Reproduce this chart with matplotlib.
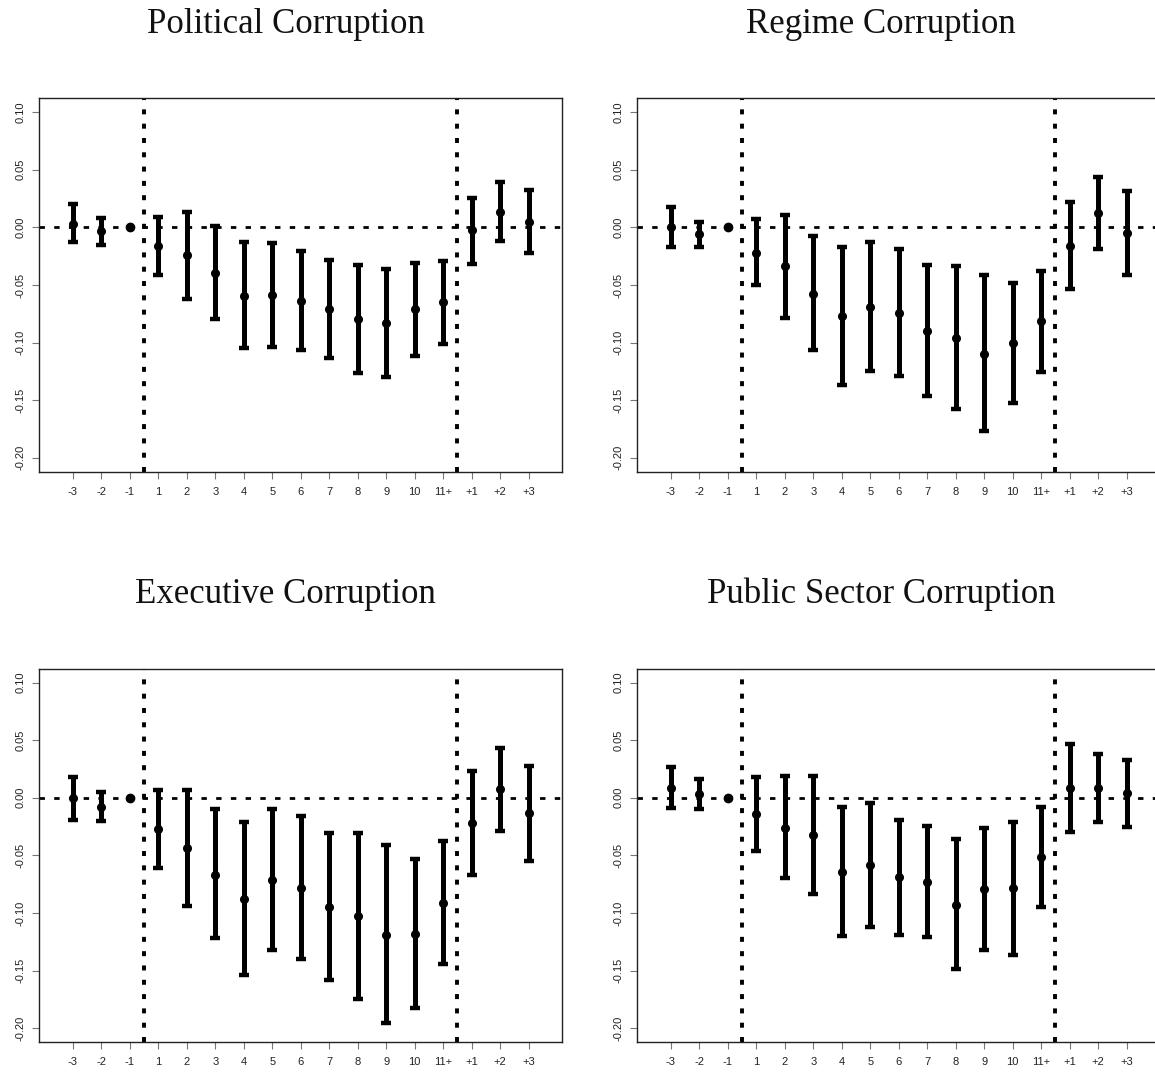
import numpy as np
import matplotlib
matplotlib.use("Agg")
import matplotlib.pyplot as plt

plt.rcParams['lines.scale_dashes'] = False
plt.rcParams['font.family'] = ['Liberation Sans', 'DejaVu Sans']

labels = ['-3', '-2', '-1', '1', '2', '3', '4', '5', '6', '7', '8', '9',
          '10', '11+', '+1', '+2', '+3']
ref_idx = 2  # the omitted period (-1), drawn as a plain dot at zero

political_est = [0.003, -0.0035, 0.0, -0.0165, -0.0237, -0.0393, -0.0595, -0.0584, -0.0639,
                 -0.0705, -0.0798, -0.083, -0.0711, -0.0647, -0.0026, 0.0133, 0.0049]
political_lo = [-0.013, -0.015, 0.0, -0.0416, -0.0624, -0.0792, -0.105, -0.1038, -0.1066,
                -0.1133, -0.126, -0.1298, -0.1118, -0.1014, -0.0315, -0.0116, -0.022]
political_hi = [0.020, 0.008, 0.0, 0.0087, 0.0136, 0.0012, -0.013, -0.0139, -0.0208,
                -0.028, -0.0327, -0.0361, -0.0312, -0.0289, 0.0254, 0.039, 0.032]

regime_est = [0.0, -0.0058, 0.0, -0.022, -0.0338, -0.0575, -0.0769, -0.0688, -0.0743,
              -0.0896, -0.096, -0.1095, -0.1003, -0.0815, -0.0162, 0.0124, -0.0052]
regime_lo = [-0.0168, -0.0168, 0.0, -0.0503, -0.0783, -0.1066, -0.1364, -0.1243, -0.1292,
             -0.146, -0.1578, -0.1763, -0.1523, -0.1251, -0.0538, -0.0185, -0.0416]
regime_hi = [0.0173, 0.0046, 0.0, 0.0072, 0.011, -0.0075, -0.0168, -0.013, -0.0188,
             -0.0327, -0.0338, -0.0416, -0.0483, -0.0376, 0.0223, 0.0436, 0.0312]

executive_est = [-0.0006, -0.0078, 0.0, -0.0272, -0.0434, -0.0668, -0.0879, -0.0711, -0.0783,
                 -0.0951, -0.1029, -0.119, -0.1182, -0.091, -0.0223, 0.0072, -0.0136]
executive_lo = [-0.0194, -0.0202, 0.0, -0.0607, -0.0936, -0.122, -0.154, -0.1324, -0.1396,
                -0.158, -0.1746, -0.1954, -0.1827, -0.1442, -0.0673, -0.0289, -0.0552]
executive_hi = [0.0176, 0.0049, 0.0, 0.0066, 0.0069, -0.0098, -0.0208, -0.0098, -0.0156,
                -0.0309, -0.0309, -0.0413, -0.0535, -0.0373, 0.0231, 0.0436, 0.028]

public_est = [0.0087, 0.0032, 0.0, -0.0145, -0.026, -0.0321, -0.0642, -0.0587, -0.0688,
              -0.0728, -0.0928, -0.0792, -0.0786, -0.0514, 0.0087, 0.0087, 0.004]
public_lo = [-0.009, -0.0101, 0.0, -0.0465, -0.0697, -0.0832, -0.12, -0.1118, -0.1191,
             -0.1205, -0.1486, -0.1318, -0.1364, -0.0945, -0.0298, -0.0211, -0.0257]
public_hi = [0.0263, 0.0165, 0.0, 0.0182, 0.0191, 0.0191, -0.0078, -0.0043, -0.0194,
             -0.0249, -0.0361, -0.0266, -0.0208, -0.0078, 0.0468, 0.0379, 0.0329]

yticks = [0.10, 0.05, 0.00, -0.05, -0.10, -0.15, -0.20]


def event_panel(ax, est, lo, hi):
    x = np.arange(1, len(labels) + 1)
    est = np.array(est)
    lo = np.array(lo)
    hi = np.array(hi)
    keep = np.arange(len(labels)) != ref_idx

    ax.axhline(0, color='black', lw=2.0, dashes=(3.9, 6.7), dash_capstyle='butt', zorder=1)
    for xv in (3.5, 14.5):  # start of treatment / end of treatment
        ax.axvline(xv, color='black', lw=2.8, dashes=(3.6, 6.7), dash_capstyle='butt', zorder=1)

    ax.errorbar(x[keep], est[keep], yerr=[est[keep] - lo[keep], hi[keep] - est[keep]],
                fmt='o', color='black', ms=5.5, elinewidth=3.6, capsize=3.6, capthick=3.2,
                zorder=3)
    ax.plot(x[ref_idx], est[ref_idx], 'o', color='black', ms=6, zorder=3)

    ax.set_xlim(-0.18, 18.18)
    ax.set_ylim(-0.212, 0.112)
    ax.set_xticks(x)
    ax.set_xticklabels(labels)
    ax.set_yticks(yticks)
    ax.set_yticklabels(['%.2f' % v for v in yticks], rotation=90, va='center')
    ax.tick_params(axis='both', direction='out', length=5, width=0.8, color='#777777',
                   labelcolor='#222222', labelsize=8)
    ax.tick_params(axis='x', pad=6)
    ax.tick_params(axis='y', pad=5)
    for s in ax.spines.values():
        s.set_linewidth(1.0)
        s.set_color('#222222')


fig = plt.figure(figsize=(11.55, 10.73), dpi=100)
fig.patch.set_facecolor('white')

w = 523 / 1155
h = 373.4 / 1073
panels = [
    ('Political Corruption', political_est, political_lo, political_hi, 39.3 / 1155, 0.5604, 0.2472, 0.9692),
    ('Regime Corruption', regime_est, regime_lo, regime_hi, 637.3 / 1155, 0.5604, 0.7628, 0.9692),
    ('Executive Corruption', executive_est, executive_lo, executive_hi, 39.3 / 1155, 0.0288, 0.2472, 0.4377),
    ('Public Sector Corruption', public_est, public_lo, public_hi, 637.3 / 1155, 0.0288, 0.7628, 0.4377),
]
for title, est, lo, hi, left, bottom, tx, ty in panels:
    ax = fig.add_axes([left, bottom, w, h])
    event_panel(ax, est, lo, hi)
    fig.text(tx, ty, title, ha='center', va='baseline', fontsize=25,
             family='Liberation Serif', color='#111111')

fig.savefig('out.png', dpi=100, facecolor='white')
